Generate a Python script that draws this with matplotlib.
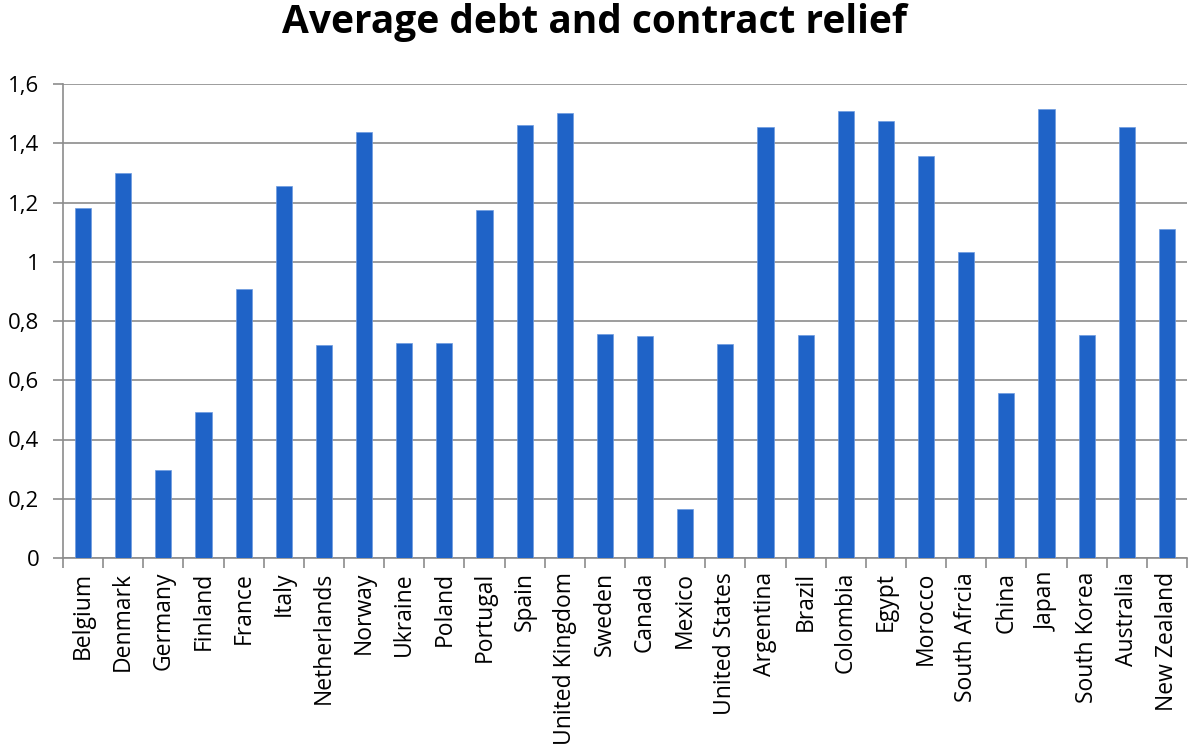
import matplotlib
matplotlib.use("Agg")
import matplotlib.pyplot as plt
from matplotlib.ticker import FixedLocator, FuncFormatter

countries = ["Belgium", "Denmark", "Germany", "Finland", "France", "Italy", "Netherlands",
             "Norway", "Ukraine", "Poland", "Portugal", "Spain", "United Kingdom", "Sweden",
             "Canada", "Mexico", "United States", "Argentina", "Brazil", "Colombia", "Egypt",
             "Morocco", "South Afrcia", "China", "Japan", "South Korea", "Australia", "New Zealand"]
values = [1.182, 1.299, 0.296, 0.493, 0.907, 1.257, 0.718,
          1.437, 0.726, 0.726, 1.175, 1.462, 1.501, 0.756,
          0.749, 0.167, 0.721, 1.454, 0.752, 1.508, 1.475,
          1.358, 1.033, 0.557, 1.515, 0.752, 1.455, 1.110]
yticks = [0, 0.2, 0.4, 0.6, 0.8, 1.0, 1.2, 1.4, 1.6]

plt.rcParams['font.family'] = ['Open Sans', 'DejaVu Sans']

fig = plt.figure(figsize=(11.89, 7.51), dpi=100)
ax = fig.add_axes([63/1189, 1 - 558/751, (1187-63)/1189, (558-84)/751])

x = list(range(len(countries)))
ax.bar(x, values, width=0.4, color='#1F63C7', edgecolor='#6E9BE0', linewidth=0.5, zorder=3)

ax.set_xlim(-0.5, len(countries) - 0.5)
ax.set_ylim(0, 1.6)
ax.set_yticks(yticks)
ax.yaxis.set_major_formatter(FuncFormatter(lambda v, p: ('%g' % round(v, 1)).replace('.', ',')))
ax.yaxis.grid(True, color='#8C8C8C', linewidth=1.2, zorder=0)
ax.set_axisbelow(True)

ax.set_xticks(x)
ax.set_xticklabels(countries, rotation=90, fontsize=16.5)
ax.tick_params(axis='x', which='major', length=0, pad=10)
ax.xaxis.set_minor_locator(FixedLocator([i - 0.5 for i in range(len(countries) + 1)]))
ax.tick_params(axis='x', which='minor', length=7, width=1.2, color='#8C8C8C', direction='out')
ax.tick_params(axis='y', labelsize=16, length=7, width=1.2, color='#8C8C8C', pad=10)

for s in ['top', 'right']:
    ax.spines[s].set_visible(False)
for s in ['left', 'bottom']:
    ax.spines[s].set_color('#8C8C8C')
    ax.spines[s].set_linewidth(1.2)

fig.text(0.5, 1 - 22/751, "Average debt and contract relief", ha='center', va='center',
         fontsize=28, fontweight='bold')

fig.savefig("out.png", dpi=100)
